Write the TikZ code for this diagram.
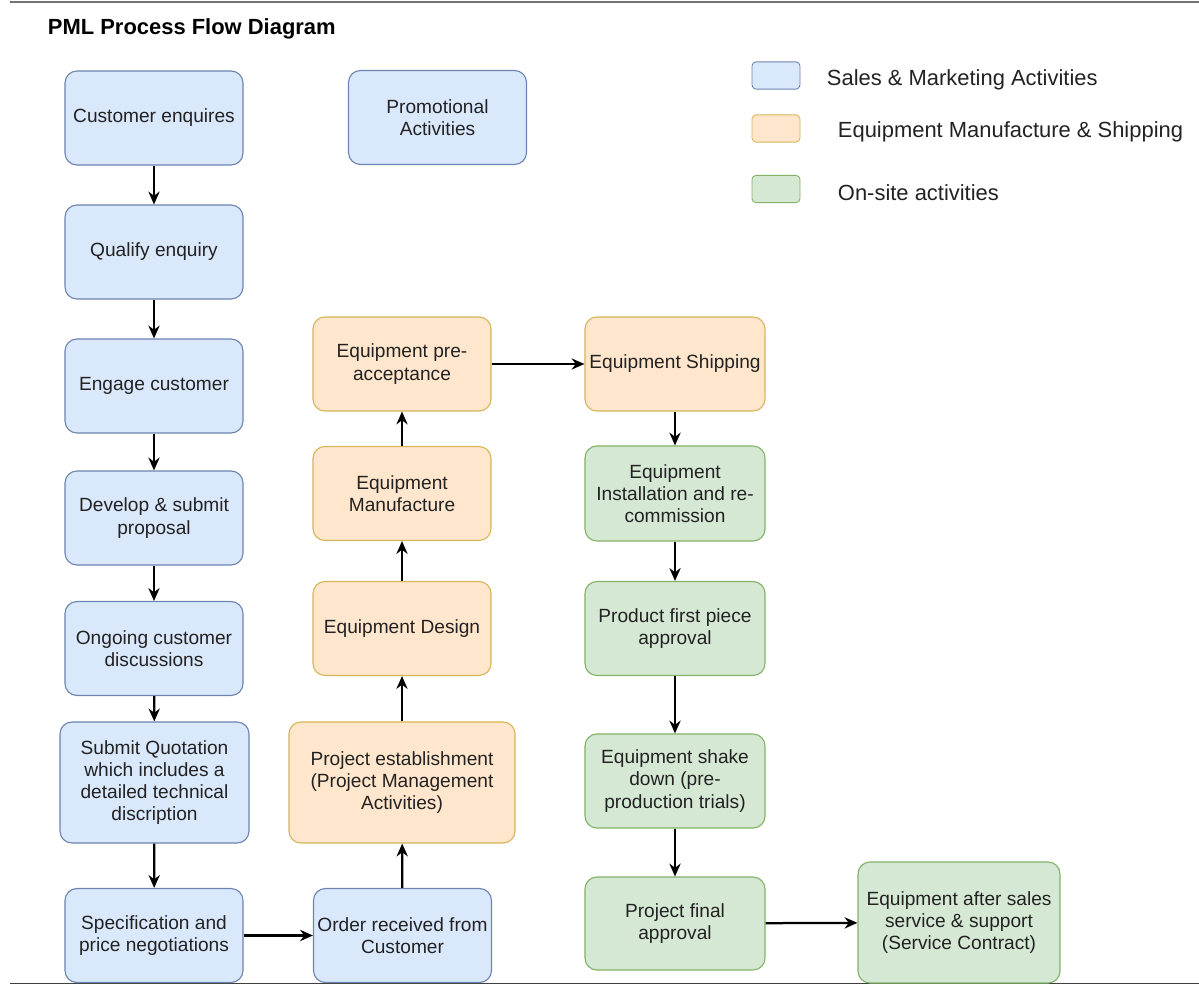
\documentclass[tikz,border=0pt]{standalone}
\usepackage{fontspec}
\setmainfont{Liberation Sans}
\usetikzlibrary{arrows.meta}
\definecolor{salesfill}{HTML}{DAE8FC}
\definecolor{salesline}{HTML}{6C84AE}
\definecolor{buildfill}{HTML}{FFE6CC}
\definecolor{buildline}{HTML}{D6B656}
\definecolor{sitefill}{HTML}{D5E8D4}
\definecolor{siteline}{HTML}{82B366}
\definecolor{inktext}{HTML}{222222}

\begin{document}
\begin{tikzpicture}[x=0.025cm, y=-0.025cm,
  box/.style={rectangle, rounded corners=0.3cm, line width=0.8pt, align=center, inner sep=2pt,
    text=inktext, font=\fontsize{13.6}{15.8}\selectfont, minimum width=4.45cm, minimum height=2.35cm},
  sales/.style={box, draw=salesline, fill=salesfill},
  build/.style={box, draw=buildline, fill=buildfill},
  site/.style={box, draw=siteline, fill=sitefill, minimum width=4.5cm},
  swatch/.style={rectangle, rounded corners=0.1cm, line width=0.6pt, minimum width=1.2cm, minimum height=0.68cm},
  keytext/.style={anchor=west, text=inktext, font=\fontsize{15.6}{18}\selectfont},
  flow/.style={line width=1.6pt, -{Stealth[length=0.32cm, width=0.28cm]}}]
  \useasboundingbox (0,0) rectangle (1199,985);
  \draw[line width=1.3pt, black!55] (10,2) -- (1199,2);
  \draw[line width=1.4pt, black!75] (10,983.5) -- (1199,983.5);
  \node[anchor=west, text=black, font=\fontsize{15.6}{18}\selectfont\bfseries] (title) at (43,29) {PML Process Flow Diagram};

  \node[swatch, draw=salesline, fill=salesfill] (keysales) at (776,75.5) {};
  \node[swatch, draw=buildline, fill=buildfill] (keybuild) at (776,128.5) {};
  \node[swatch, draw=siteline, fill=sitefill] (keysite) at (776,189) {};
  \node[keytext] (keysalestext) at (822,80) {Sales \& Marketing Activities};
  \node[keytext] (keybuildtext) at (833,132) {Equipment Manufacture \& Shipping};
  \node[keytext] (keysitetext) at (833,193) {On-site activities};

  \node[sales] (cust) at (154,118) {Customer enquires};
  \node[sales] (qual) at (154,252) {Qualify enquiry};
  \node[sales] (engage) at (154,386) {Engage customer};
  \node[sales] (devel) at (154,518) {Develop \& submit\\proposal};
  \node[sales] (ongoing) at (154,648.5) {Ongoing customer\\discussions};
  \node[sales, minimum width=4.725cm, minimum height=3.025cm] (quote) at (154.5,782.5) {Submit Quotation\\which includes a\\detailed technical\\discription};
  \node[sales] (spec) at (154,935.5) {Specification and\\price negotiations};
  \node[sales] (promo) at (437.5,117.5) {Promotional\\Activities};

  \node[sales] (order) at (402.5,935.5) {Order received from\\Customer};
  \node[build, minimum width=5.65cm, minimum height=3.025cm] (projest) at (402,782.5) {Project establishment\\(Project Management\\Activities)};
  \node[build] (design) at (402,628.5) {Equipment Design};
  \node[build] (manuf) at (402,493.5) {Equipment\\Manufacture};
  \node[build] (preacc) at (402,364) {Equipment pre-\\acceptance};

  \node[build, minimum width=4.5cm] (ship) at (675,364) {Equipment Shipping};
  \node[site, minimum height=2.375cm] (install) at (675,493.5) {Equipment\\Installation and re-\\commission};
  \node[site] (firstpc) at (675,628.5) {Product first piece\\approval};
  \node[site] (shake) at (675,781) {Equipment shake\\down (pre-\\production trials)};
  \node[site, minimum height=2.325cm] (final) at (675,923.5) {Project final\\approval};
  \node[site, minimum width=5.05cm, minimum height=3.025cm] (after) at (959,922.5) {Equipment after sales\\service \& support\\(Service Contract)};

  \draw[flow] (cust) -- (qual);
  \draw[flow] (qual) -- (engage);
  \draw[flow] (engage) -- (devel);
  \draw[flow] (devel) -- (ongoing);
  \draw[flow] (ongoing) -- (quote);
  \draw[flow] (quote) -- (spec);
  \draw[flow] (spec) -- (order);
  \draw[flow] (order) -- (projest);
  \draw[flow] (projest) -- (design);
  \draw[flow] (design) -- (manuf);
  \draw[flow] (manuf) -- (preacc);
  \draw[flow] (preacc) -- (ship);
  \draw[flow] (ship) -- (install);
  \draw[flow] (install) -- (firstpc);
  \draw[flow] (firstpc) -- (shake);
  \draw[flow] (shake) -- (final);
  \draw[flow] (final) -- (after);
\end{tikzpicture}
\end{document}
